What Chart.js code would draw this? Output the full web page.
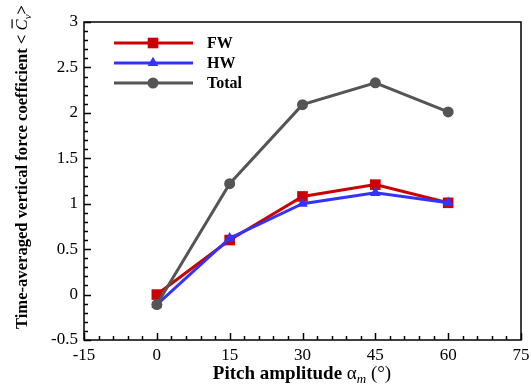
<!DOCTYPE html>
<html>
<head>
<meta charset="utf-8">
<script src="https://cdn.jsdelivr.net/npm/chart.js@4.4.0/dist/chart.umd.min.js"></script>
<style>
  body { margin: 0; background: #fff; }
  #wrap { width: 531px; height: 385px; }
</style>
</head>
<body>
<div id="wrap"><canvas id="myChart"></canvas></div>
<script>
const pitchAngles = [0, 15, 30, 45, 60];
const fwValues = [0.0, 0.60, 1.08, 1.21, 1.01];
const hwValues = [-0.11, 0.62, 1.00, 1.12, 1.01];
const totalValues = [-0.11, 1.22, 2.09, 2.33, 2.01];
const seriesNames = ['FW', 'HW', 'Total'];

const serif = '"Liberation Serif", "Times New Roman", serif';

function toPoints(vals) {
    return pitchAngles.map((a, i) => ({ x: a, y: vals[i] }));
}

// frame, inward ticks, axis titles and legend
const decorations = {
    id: 'decorations',
    afterDraw(chart) {
        const ctx = chart.ctx;
        const area = chart.chartArea;
        const xs = chart.scales.x;
        const ys = chart.scales.y;
        ctx.save();
        ctx.strokeStyle = '#000';
        ctx.lineWidth = 1.5;
        ctx.strokeRect(area.left, area.top, area.right - area.left, area.bottom - area.top);

        ctx.lineWidth = 1.5;
        ctx.beginPath();
        for (let v = -15; v <= 75; v += 3) {
            const px = Math.round(xs.getPixelForValue(v)) + 0.5;
            const len = (v % 15 === 0) ? 7 : 4;
            ctx.moveTo(px, area.bottom);
            ctx.lineTo(px, area.bottom - len);
        }
        for (let k = -5; k <= 30; k++) {
            const py = Math.round(ys.getPixelForValue(k / 10)) + 0.5;
            const len = (k % 5 === 0) ? 7 : 4;
            ctx.moveTo(area.left, py);
            ctx.lineTo(area.left + len, py);
        }
        ctx.stroke();

        // x title
        ctx.fillStyle = '#000';
        ctx.textBaseline = 'alphabetic';
        const xt1 = 'Pitch amplitude ';
        const xt2 = '(°)';
        ctx.font = 'bold 19px ' + serif;
        const w1 = ctx.measureText(xt1).width;
        ctx.font = '19px ' + serif;
        const wa = ctx.measureText('α').width;
        ctx.font = 'italic 13px ' + serif;
        const wm = ctx.measureText('m').width;
        ctx.font = '19px ' + serif;
        const w2 = ctx.measureText(' ' + xt2).width;
        let x0 = 302 - (w1 + wa + wm + w2) / 2;
        const yb = 379;
        ctx.font = 'bold 19px ' + serif;
        ctx.fillText(xt1, x0, yb); x0 += w1;
        ctx.font = '19px ' + serif;
        ctx.fillText('α', x0, yb); x0 += wa;
        ctx.font = 'italic 13px ' + serif;
        ctx.fillText('m', x0, yb + 4); x0 += wm;
        ctx.font = '19px ' + serif;
        ctx.fillText(' ' + xt2, x0, yb);

        // y title (rotated)
        ctx.save();
        ctx.translate(27, 167);
        ctx.rotate(-Math.PI / 2);
        const yt1 = 'Time-averaged vertical force coefficient < ';
        ctx.font = 'bold 16.6px ' + serif;
        const yw1 = ctx.measureText(yt1).width;
        ctx.font = 'italic 16.6px ' + serif;
        const ywc = ctx.measureText('C').width;
        ctx.font = 'italic 11px ' + serif;
        const ywv = ctx.measureText('v').width;
        ctx.font = 'bold 16.6px ' + serif;
        const yw3 = ctx.measureText('>').width;
        let y0 = -(yw1 + ywc + ywv + yw3) / 2;
        ctx.font = 'bold 16.6px ' + serif;
        ctx.fillText(yt1, y0, 0); y0 += yw1;
        ctx.font = 'italic 16.6px ' + serif;
        ctx.fillText('C', y0, 0);
        ctx.fillRect(y0 + 2, -15.5, ywc - 2, 1.2);
        y0 += ywc;
        ctx.font = 'italic 11px ' + serif;
        ctx.fillText('v', y0, 4); y0 += ywv;
        ctx.font = 'bold 16.6px ' + serif;
        ctx.fillText('>', y0, 0);
        ctx.restore();

        // legend
        const rows = [43, 63, 83];
        chart.data.datasets.forEach((ds, i) => {
            const yy = rows[i];
            ctx.strokeStyle = ds.borderColor;
            ctx.lineWidth = ds.borderWidth;
            ctx.beginPath();
            ctx.moveTo(114, yy);
            ctx.lineTo(193, yy);
            ctx.stroke();
            ctx.fillStyle = ds.backgroundColor;
            Chart.helpers.drawPoint(ctx, {
                pointStyle: ds.pointStyle,
                radius: ds.pointRadius,
                borderWidth: 0,
                rotation: 0
            }, 153, yy);
            ctx.fillStyle = '#000';
            ctx.font = 'bold 16px ' + serif;
            ctx.textBaseline = 'middle';
            ctx.fillText(ds.label, 207, yy + 1);
        });
        ctx.restore();
    }
};

const data = {
    datasets: [
        {
            label: seriesNames[0],
            data: toPoints(fwValues),
            borderColor: '#cc0000',
            backgroundColor: '#cc0000',
            borderWidth: 3,
            pointStyle: 'rect',
            pointRadius: 7.5,
            pointBorderWidth: 0,
            order: 2
        },
        {
            label: seriesNames[1],
            data: toPoints(hwValues),
            borderColor: '#3333ff',
            backgroundColor: '#3333ff',
            borderWidth: 3,
            pointStyle: 'triangle',
            pointRadius: 6.2,
            pointBorderWidth: 0,
            order: 1
        },
        {
            label: seriesNames[2],
            data: toPoints(totalValues),
            borderColor: '#555555',
            backgroundColor: '#555555',
            borderWidth: 3,
            pointStyle: 'circle',
            pointRadius: 5.5,
            pointBorderWidth: 0,
            order: 0
        }
    ]
};

const config = {
    type: 'line',
    data,
    options: {
        responsive: false,
        animation: false,
        events: [],
        layout: { padding: { left: 0, right: 10, top: 22, bottom: 0 } },
        plugins: {
            legend: { display: false },
            tooltip: { enabled: false }
        },
        elements: {
            line: { tension: 0 },
            point: { hoverRadius: 0 }
        },
        scales: {
            x: {
                type: 'linear',
                min: -15,
                max: 75,
                grid: { display: false, drawTicks: false },
                border: { display: false },
                ticks: {
                    stepSize: 15,
                    padding: 5,
                    color: '#000',
                    maxRotation: 0,
                    font: { family: serif, size: 17 }
                },
                afterFit(scale) {
                    scale.height = 45;
                    scale.paddingLeft = 0;
                    scale.paddingRight = 0;
                }
            },
            y: {
                min: -0.5,
                max: 3,
                grid: { display: false, drawTicks: false },
                border: { display: false },
                ticks: {
                    stepSize: 0.5,
                    padding: 6,
                    color: '#000',
                    font: { family: serif, size: 17 },
                    callback: (v) => String(Math.round(v * 10) / 10)
                },
                afterFit(scale) {
                    scale.width = 84;
                    scale.paddingTop = 0;
                    scale.paddingBottom = 0;
                }
            }
        }
    },
    plugins: [decorations]
};

const canvas = document.getElementById('myChart');
canvas.width = 531;
canvas.height = 385;
let myChart = new Chart(canvas, config);
</script>
</body>
</html>
